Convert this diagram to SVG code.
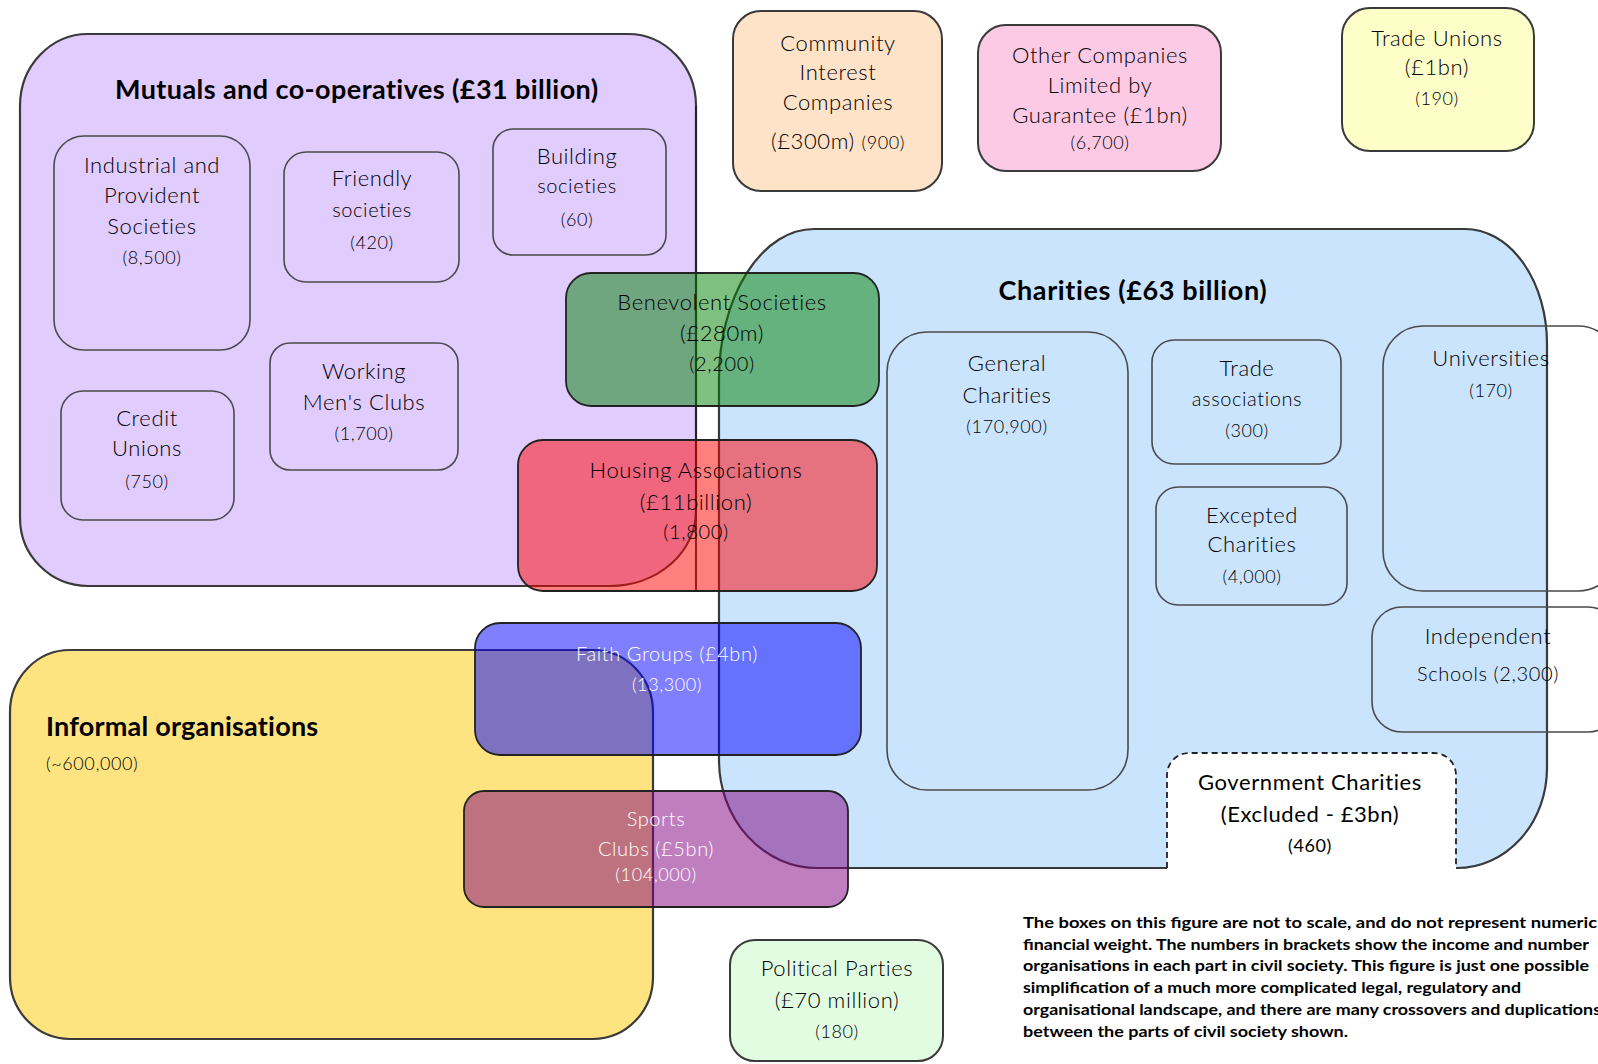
<svg xmlns="http://www.w3.org/2000/svg" width="1598" height="1064" viewBox="0 0 1598 1064">
<style>
text{font-family:Lato,"Open Sans","Liberation Sans",sans-serif;font-weight:300;font-size:22px;fill:#000;text-anchor:middle;letter-spacing:0.6px}
.n{font-size:18px}
.m{font-size:20px}
.t{font-weight:700;font-size:27px;letter-spacing:0.8px}
.w{fill:#fff}
.g{font-weight:400}
.note{font-weight:700;font-size:16px;text-anchor:start;letter-spacing:0}
.big{stroke:#3a3a3a;stroke-width:2.2}
.sub{fill:none;stroke:#4a4a4a;stroke-width:1.6}
.box{stroke:#3a3a3a;stroke-width:2}
.tr{stroke:#222;stroke-width:1.8}
</style>
<rect width="1598" height="1064" fill="#fff"/>

<g id="mutuals">
<path class="big" fill="#E1CCFE" d="M88 34H628A68 72 0 0 1 696 106V511A86 75 0 0 1 610 586H88A68 68 0 0 1 20 518V106A68 72 0 0 1 88 34Z"/>
<line x1="696" y1="106" x2="696" y2="590" stroke="#222" stroke-width="1.8"/>
<text class="t" x="357" y="99" textLength="484" lengthAdjust="spacing">Mutuals and co-operatives (£31 billion)</text>
</g>
<g id="ips"><rect class="sub" x="54" y="136" width="196" height="214" rx="30"/>
<text x="152" y="173">Industrial and</text><text x="152" y="203">Provident</text><text x="152" y="234">Societies</text><text class="n" x="152" y="264">(8,500)</text></g>
<g id="friendly"><rect class="sub" x="284" y="152" width="175" height="130" rx="22"/>
<text x="372" y="186">Friendly</text><text class="m" x="372" y="217">societies</text><text class="n" x="372" y="249">(420)</text></g>
<g id="building"><rect class="sub" x="493" y="129" width="173" height="126" rx="20"/>
<text x="577" y="164">Building</text><text class="m" x="577" y="193">societies</text><text class="n" x="577" y="226">(60)</text></g>
<g id="credit"><rect class="sub" x="61" y="391" width="173" height="129" rx="22"/>
<text x="147" y="426">Credit</text><text x="147" y="456">Unions</text><text class="n" x="147" y="488">(750)</text></g>
<g id="working"><rect class="sub" x="270" y="343" width="188" height="127" rx="20"/>
<text x="364" y="379">Working</text><text x="364" y="410">Men's Clubs</text><text class="n" x="364" y="440">(1,700)</text></g>

<g id="charities">
<path class="big" fill="#CAE4FD" d="M814 229H1465A82 115 0 0 1 1547 344V768A90 100 0 0 1 1457 868H817A98 108 0 0 1 719 760V379A95 150 0 0 1 814 229Z"/>
<text class="t" x="1133" y="300" textLength="269" lengthAdjust="spacing">Charities (£63 billion)</text>
</g>
<g id="general"><rect class="sub" x="887" y="332" width="241" height="458" rx="40"/>
<text x="1007" y="371">General</text><text x="1007" y="403">Charities</text><text class="n" x="1007" y="433">(170,900)</text></g>
<g id="tradeassoc"><rect class="sub" x="1152" y="340" width="189" height="124" rx="22"/>
<text x="1247" y="376">Trade</text><text class="m" x="1247" y="406">associations</text><text class="n" x="1247" y="437">(300)</text></g>
<g id="excepted"><rect class="sub" x="1156" y="487" width="191" height="118" rx="22"/>
<text x="1252" y="523">Excepted</text><text x="1252" y="552">Charities</text><text class="n" x="1252" y="583">(4,000)</text></g>
<g id="universities"><rect class="sub" x="1383" y="326" width="235" height="265" rx="40"/>
<text x="1491" y="366">Universities</text><text class="n" x="1491" y="397">(170)</text></g>
<g id="independent"><rect class="sub" x="1372" y="607" width="246" height="125" rx="30"/>
<text x="1488" y="644">Independent</text><text class="m" x="1488" y="681">Schools (2,300)</text></g>

<g id="government">
<path fill="#fff" d="M1167 870V775A22 22 0 0 1 1189 753H1434A22 22 0 0 1 1456 775V870Z"/>
<path fill="none" stroke="#222" stroke-width="1.8" stroke-dasharray="6 4" d="M1167 868V775A22 22 0 0 1 1189 753H1434A22 22 0 0 1 1456 775V868"/>
<text class="g" x="1310" y="790">Government Charities</text><text class="g" x="1310" y="822">(Excluded - £3bn)</text><text class="n g" x="1310" y="852">(460)</text>
</g>

<g id="informal">
<rect class="big" x="10" y="650" width="643" height="389" rx="60" ry="62" fill="#FDE480"/>
<text class="t" x="46" y="736" style="text-anchor:start" textLength="273" lengthAdjust="spacing">Informal organisations</text>
<text class="n" x="46" y="770" style="text-anchor:start">(~600,000)</text>
</g>

<g id="community"><rect class="box" x="733" y="11" width="209" height="180" rx="28" fill="#FEE3C9"/>
<text x="838" y="51">Community</text><text x="838" y="80">Interest</text><text x="838" y="110">Companies</text><text x="838" y="149">(£300m) <tspan class="n">(900)</tspan></text></g>
<g id="otherclg"><rect class="box" x="978" y="25" width="243" height="146" rx="28" fill="#FDCAE5"/>
<text x="1100" y="63">Other Companies</text><text x="1100" y="93">Limited by</text><text x="1100" y="123">Guarantee (£1bn)</text><text class="n" x="1100" y="149">(6,700)</text></g>
<g id="tradeunions"><rect class="box" x="1342" y="8" width="192" height="143" rx="28" fill="#FEFEC9"/>
<text x="1437" y="46">Trade Unions</text><text x="1437" y="75">(£1bn)</text><text class="n" x="1437" y="105">(190)</text></g>
<g id="political"><rect class="box" x="730" y="940" width="213" height="121" rx="25" fill="#E2FCE2"/>
<text x="837" y="976">Political Parties</text><text x="837" y="1008">(£70 million)</text><text class="n" x="837" y="1038">(180)</text></g>

<g id="benevolent"><rect class="tr" x="566" y="273" width="313" height="133" rx="25" fill="#008000" fill-opacity="0.5"/>
<text x="722" y="310">Benevolent Societies</text><text x="722" y="341">(£280m)</text><text class="m" x="722" y="371">(2,200)</text></g>
<g id="housing"><rect class="tr" x="518" y="440" width="359" height="151" rx="25" fill="#FF0000" fill-opacity="0.5"/>
<text x="696" y="478">Housing Associations</text><text x="696" y="510">(£11billion)</text><text class="m" x="696" y="539">(1,800)</text></g>
<g id="faith"><rect class="tr" x="475" y="623" width="386" height="132" rx="25" fill="#0000FF" fill-opacity="0.5"/>
<text class="m w" x="667" y="661">Faith Groups (£4bn)</text><text class="n w" x="667" y="691">(13,300)</text></g>
<g id="sports"><rect class="tr" x="464" y="791" width="384" height="116" rx="20" fill="#800080" fill-opacity="0.5"/>
<text class="m w" x="656" y="826">Sports</text><text class="m w" x="656" y="856">Clubs (£5bn)</text><text class="n w" x="656" y="881">(104,000)</text></g>

<g id="note">
<text class="note" x="1023" y="928" textLength="574" lengthAdjust="spacingAndGlyphs">The boxes on this figure are not to scale, and do not represent numeric</text>
<text class="note" x="1023" y="950" textLength="566" lengthAdjust="spacingAndGlyphs">financial weight. The numbers in brackets show the income and number</text>
<text class="note" x="1023" y="971" textLength="566" lengthAdjust="spacingAndGlyphs">organisations in each part in civil society. This figure is just one possible</text>
<text class="note" x="1023" y="993" textLength="498" lengthAdjust="spacingAndGlyphs">simplification of a much more complicated legal, regulatory and</text>
<text class="note" x="1023" y="1015" textLength="578" lengthAdjust="spacingAndGlyphs">organisational landscape, and there are many crossovers and duplications</text>
<text class="note" x="1023" y="1037" textLength="325" lengthAdjust="spacingAndGlyphs">between the parts of civil society shown.</text>
</g>
</svg>
